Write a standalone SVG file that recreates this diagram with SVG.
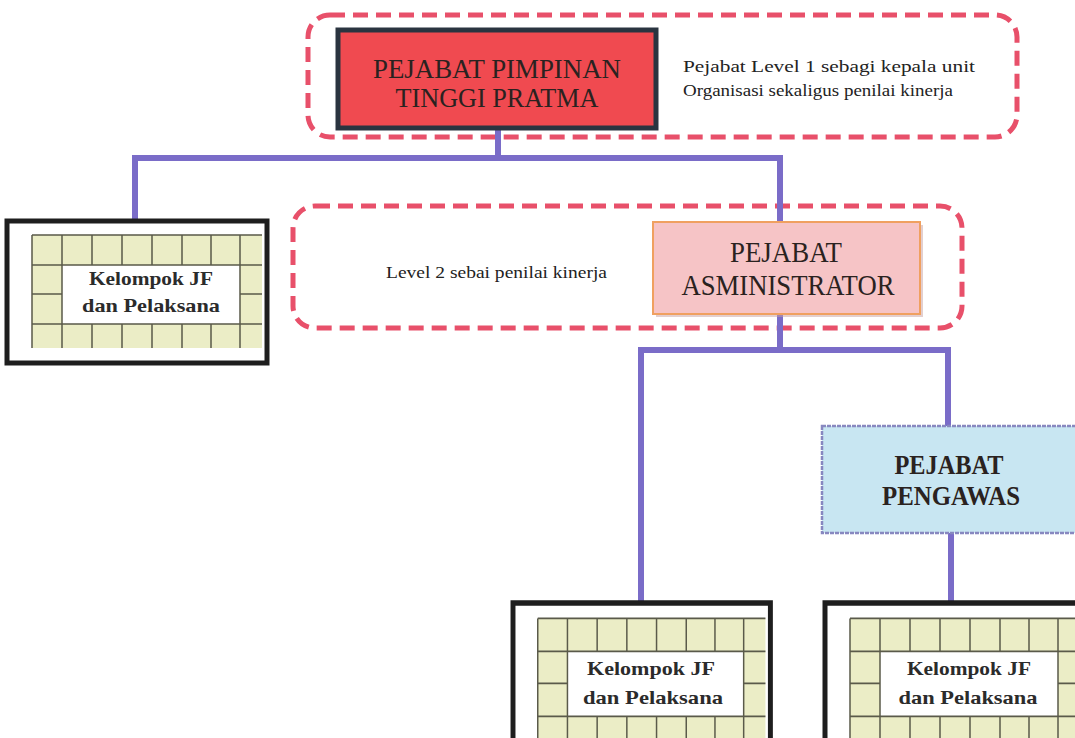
<svg xmlns="http://www.w3.org/2000/svg" xmlns:xlink="http://www.w3.org/1999/xlink" width="1075" height="738" viewBox="0 0 1075 738">
<style>
.dash{fill:none;stroke:#e8506a;stroke-width:5;stroke-dasharray:15 8;}
.conn{fill:none;stroke:#7a6cc8;stroke-width:6;stroke-linecap:square;}
.t{font-family:"Liberation Serif","DejaVu Serif",serif;fill:#2a2220;text-anchor:middle;}
.note{font-family:"Liberation Serif","DejaVu Serif",serif;fill:#222222;font-size:17px;}
.jf{font-family:"Liberation Serif","DejaVu Serif",serif;font-weight:bold;fill:#2b2b2b;font-size:19px;text-anchor:middle;}
.grid{fill:#ebedc6;}
.gl{stroke:#5a5a4a;stroke-width:1.5;fill:none;}
</style>
<defs>
<g id="jfbox">
<rect x="0" y="0" width="260" height="142" fill="#ffffff" stroke="#1e1e1e" stroke-width="5"/>
<rect class="grid" x="25" y="14" width="230" height="113"/>
<rect x="55" y="44" width="178" height="59" fill="#ffffff"/>
<path class="gl" d="M25 14H255M25 44H255M25 103H255M25 73H55M233 73H255M25 14V127M55 14V127M233 14V127M85 14V44M115 14V44M145 14V44M175 14V44M204 14V44M85 103V127M115 103V127M145 103V127M175 103V127M204 103V127"/>
</g>
</defs>
<rect width="1075" height="738" fill="#ffffff"/>
<g id="containers">
<rect class="dash" x="308" y="15" width="709" height="122" rx="22"/>
<rect class="dash" x="293" y="206" width="669" height="122" rx="22"/>
</g>
<g id="connectors">
<path class="conn" d="M498 128V158"/>
<path class="conn" d="M135 158H780"/>
<path class="conn" d="M135 158V221"/>
<path class="conn" d="M780 158V222"/>
<path class="conn" d="M780 314V350"/>
<path class="conn" d="M641 350H948"/>
<path class="conn" d="M641 350V603"/>
<path class="conn" d="M948 350V426"/>
<path class="conn" d="M951 533V603"/>
</g>
<g id="pimpinan">
<rect x="338" y="30" width="318" height="98" fill="#f04a50" stroke="#2a3440" stroke-width="5"/>
<text class="t" x="497" y="78" font-size="28" textLength="248" lengthAdjust="spacingAndGlyphs">PEJABAT PIMPINAN</text>
<text class="t" x="497" y="107" font-size="28" textLength="203" lengthAdjust="spacingAndGlyphs">TINGGI PRATMA</text>
</g>
<g id="note1">
<text class="note" x="683" y="72" textLength="292" lengthAdjust="spacingAndGlyphs">Pejabat Level 1 sebagi kepala unit</text>
<text class="note" x="683" y="96" textLength="270" lengthAdjust="spacingAndGlyphs">Organisasi sekaligus penilai kinerja</text>
</g>
<g id="note2">
<text class="note" x="386" y="278" textLength="221" lengthAdjust="spacingAndGlyphs">Level 2 sebai penilai kinerja</text>
</g>
<g id="administrator">
<rect x="656" y="225" width="267" height="92" fill="#c8a0a0" opacity="0.5"/>
<rect x="653" y="222" width="267" height="92" fill="#f6c4c6" stroke="#f0a060" stroke-width="2"/>
<text class="t" x="786" y="262" font-size="29" textLength="112" lengthAdjust="spacingAndGlyphs">PEJABAT</text>
<text class="t" x="788" y="295" font-size="29" textLength="213" lengthAdjust="spacingAndGlyphs">ASMINISTRATOR</text>
</g>
<g id="pengawas">
<rect x="822" y="426" width="270" height="107" fill="#c8e6f2" stroke="#8888c0" stroke-width="2.5" stroke-dasharray="4 1"/>
<text class="t" x="949" y="474" font-size="28" font-weight="bold" textLength="109" lengthAdjust="spacingAndGlyphs">PEJABAT</text>
<text class="t" x="951" y="505" font-size="28" font-weight="bold" textLength="138" lengthAdjust="spacingAndGlyphs">PENGAWAS</text>
</g>
<g id="jf-left">
<use xlink:href="#jfbox" transform="translate(7,221)"/>
<text class="jf" x="151" y="285" textLength="124" lengthAdjust="spacingAndGlyphs">Kelompok JF</text>
<text class="jf" x="151" y="312" textLength="138" lengthAdjust="spacingAndGlyphs">dan Pelaksana</text>
</g>
<g id="jf-mid">
<use xlink:href="#jfbox" transform="translate(513,603) scale(0.99,1.1)"/>
<text class="jf" x="651" y="675" textLength="128" lengthAdjust="spacingAndGlyphs">Kelompok JF</text>
<text class="jf" x="653" y="704" textLength="140" lengthAdjust="spacingAndGlyphs">dan Pelaksana</text>
</g>
<g id="jf-right">
<use xlink:href="#jfbox" transform="translate(825,603) scale(1,1.1)"/>
<text class="jf" x="969" y="675" textLength="124" lengthAdjust="spacingAndGlyphs">Kelompok JF</text>
<text class="jf" x="968" y="704" textLength="139" lengthAdjust="spacingAndGlyphs">dan Pelaksana</text>
</g>
</svg>
